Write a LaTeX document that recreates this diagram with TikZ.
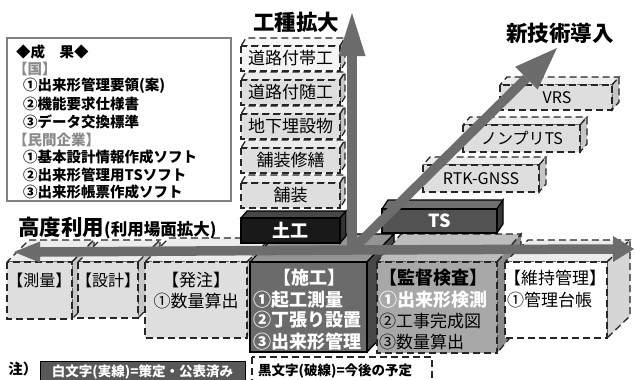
\documentclass[tikz,border=0pt]{standalone}
\usepackage{fontspec}
\setmainfont{Noto Sans CJK JP}
\usetikzlibrary{calc}
\definecolor{arrgray}{RGB}{108,108,108}
\definecolor{ltfront}{RGB}{222,222,222}
\definecolor{lttop}{RGB}{236,236,236}
\definecolor{ltside}{RGB}{198,198,198}
\definecolor{txtgray}{RGB}{140,140,140}
\definecolor{legdark}{RGB}{88,88,88}
\newcommand{\mycube}[7]{%
  \path[#7 top] (#1,#2) -- (#3,#2) -- (#3+#5,#2-#6) -- (#1+#5,#2-#6) -- cycle;
  \path[#7 side] (#3,#2) -- (#3+#5,#2-#6) -- (#3+#5,#4-#6) -- (#3,#4) -- cycle;
  \path[#7 front] (#1,#2) rectangle (#3,#4);
}
\tikzset{
  dsh/.style={draw=black!85, line width=1.3pt, dash pattern=on 7pt off 4pt},
  sld/.style={draw=black, line width=1.2pt},
  lt front/.style={fill=ltfront, dsh}, lt top/.style={fill=lttop, dsh}, lt side/.style={fill=ltside, dsh},
  wl front/.style={fill=black!4, dsh}, wl top/.style={fill=black!3, dsh}, wl side/.style={fill=ltside, dsh},
  wt front/.style={fill=white, dsh}, wt top/.style={fill=black!8, dsh}, wt side/.style={fill=black!16, dsh},
  sk front/.style={fill=black!58, sld}, sk top/.style={fill=black!42, sld}, sk side/.style={fill=black!72, sld},
  kt front/.style={fill=black!34, dsh}, kt top/.style={fill=black!26, dsh}, kt side/.style={fill=black!46, dsh},
  dg front/.style={fill=black!90, sld}, dg top/.style={fill=black!72, sld}, dg side/.style={fill=black!80, sld},
  ts front/.style={fill=black!68, sld}, ts top/.style={fill=black!56, sld}, ts side/.style={fill=black!78, sld},
  txt/.style={inner sep=0pt},
  f13/.style={font=\fontsize{13.5}{13.5}\selectfont\bfseries},
  f14/.style={font=\fontsize{14.5}{14.5}\selectfont\bfseries},
  f16/.style={font=\fontsize{16}{16}\selectfont},
  f17/.style={font=\fontsize{17}{17}\selectfont},
  f18b/.style={font=\fontsize{18}{18}\selectfont\bfseries},
  f21/.style={font=\fontsize{21.5}{21.5}\selectfont\bfseries},
  shaft/.style={draw=arrgray, line width=9.5pt},
  ahead/.style={fill=arrgray},
}
\begin{document}
\begin{tikzpicture}[x=1pt,y=-1pt]
\useasboundingbox (0,0) rectangle (635,380);
\fill[white] (0,0) rectangle (635,380);

% results box
\draw[draw=black!50, line width=1.5pt] (7,38) rectangle (231,201);
\node[txt,f14,anchor=west] (r0) at (16,52) {◆成　果◆};
\node[txt,f14,anchor=west,text=txtgray] (r1) at (13,69) {【国】};
\node[txt,f14,anchor=west] (r2) at (23,86) {①出来形管理要領(案)};
\node[txt,f14,anchor=west] (r3) at (23,104) {②機能要求仕様書};
\node[txt,f14,anchor=west] (r4) at (23,122) {③データ交換標準};
\node[txt,f14,anchor=west,text=txtgray] (r5) at (13,140) {【民間企業】};
\node[txt,f14,anchor=west] (r6) at (23,157) {①基本設計情報作成ソフト};
\node[txt,f14,anchor=west] (r7) at (23,175) {②出来形管理用TSソフト};
\node[txt,f14,anchor=west] (r8) at (23,192) {③出来形帳票作成ソフト};

% left stacked boxes (work types)
\mycube{241}{46}{340}{71}{5}{8}{wl}
\node[txt,f17] (k1) at (290.5,58.5) {道路付帯工};
\mycube{241}{80}{340}{105}{5}{8}{lt}
\node[txt,f17] (k2) at (290.5,92.5) {道路付随工};
\mycube{241}{114}{340}{139}{5}{8}{lt}
\node[txt,f17] (k3) at (290.5,126.5) {地下埋設物};
\mycube{241}{148}{340}{173}{5}{8}{lt}
\node[txt,f17] (k4) at (290.5,160.5) {舗装修繕};
\mycube{241}{183}{340}{208}{5}{8}{lt}
\node[txt,f17] (k5) at (290.5,195.5) {舗装};

% right stacked boxes (new tech)
\mycube{500}{85}{612}{110}{7}{8}{lt}
\node[txt,f16] (t1) at (557,98) {VRS};
\mycube{463}{125}{580}{152}{7}{8}{lt}
\node[txt,f16] (t2) at (522,138.5) {ノンプリTS};
\mycube{423}{165}{539}{192}{7}{8}{lt}
\node[txt,f16] (t3) at (481,178.5) {RTK-GNSS};

% bottom phase boxes
\mycube{7}{262}{72}{319}{22}{22}{lt}
\node[txt,f16] (p1) at (39.5,280) {【測量】};
\mycube{78}{262}{138}{318}{22}{22}{lt}
\node[txt,f16] (p2) at (108,280) {【設計】};
\mycube{145}{262}{247}{338}{24}{24}{lt}
\node[txt,f17] (p3a) at (196,280) {【発注】};
\node[txt,f17] (p3b) at (196,301) {①数量算出};
\mycube{250}{262}{367}{352}{27}{28}{sk}
\node[txt,f18b,text=white] (p4a) at (309,278) {【施工】};
\node[txt,f18b,text=white,anchor=west] (p4b) at (253,300) {①起工測量};
\node[txt,f18b,text=white,anchor=west] (p4c) at (253,320) {②丁張り設置};
\node[txt,f18b,text=white,anchor=west] (p4d) at (253,342) {③出来形管理};
\mycube{377}{262}{497}{353}{24}{28}{kt}
\node[txt,f18b] (p5a) at (433,278) {【監督検査】};
\node[txt,f18b,text=white,anchor=west] (p5b) at (379,300) {①出来形検測};
\node[txt,f17,anchor=west] (p5c) at (379,321) {②工事完成図};
\node[txt,f17,anchor=west] (p5d) at (379,342) {③数量算出};
\mycube{505}{262}{607}{338}{23}{22}{wt}
\node[txt,f17,anchor=west] (p6a) at (504,278) {【維持管理】};
\node[txt,f17,anchor=west] (p6b) at (507,300) {①管理台帳};

% dark boxes
\mycube{241}{218}{340}{243}{6}{7}{dg}
\node[txt,f18b,text=white] (dk) at (290.5,230.5) {土工};
\mycube{382}{209}{497}{233}{6}{9}{ts}
\node[txt,f18b,text=white] (tsb) at (439.5,221) {TS};

% axes
\coordinate (O) at (352,250);
\coordinate (L) at (14,252);
\coordinate (Lb) at (40,252);
\coordinate (R) at (634,249);
\coordinate (Rb) at (613,249);
\coordinate (U) at (352,13);
\coordinate (Ub) at (352,56);
\coordinate (D) at (557,48);
\coordinate (Db) at (526.4,78.2);
\draw[shaft] (O) -- (Lb);
\draw[shaft] (O) -- (Rb);
\fill[ahead] (L) -- ($(Lb)+(0,-10.5)$) -- ($(Lb)+(0,10.5)$) -- cycle;
\fill[ahead] (R) -- ($(Rb)+(0,-13)$) -- ($(Rb)+(0,13)$) -- cycle;
\draw[shaft] (O) -- (Ub);
\fill[ahead] (U) -- ($(Ub)+(-13.5,0)$) -- ($(Ub)+(13.5,0)$) -- cycle;
\draw[shaft] (O) -- (Db);
\fill[ahead] (D) -- ($(Db)+(-11.2,-11.4)$) -- ($(Db)+(11.2,11.4)$) -- cycle;

% axis labels
\node[txt,f21] (ax1) at (296,22) {工種拡大};
\node[txt,f21] (ax2) at (560,33) {新技術導入};
\node[txt,anchor=west] (ax3) at (18,228) {{\fontsize{21.5}{21.5}\selectfont\bfseries 高度利用}{\fontsize{16.5}{16.5}\selectfont\bfseries (利用場面拡大)}};

% legend
\node[txt,font=\fontsize{14.5}{14.5}\selectfont\bfseries] (nt) at (23,369) {注）};
\path[fill=legdark, draw=black, line width=1pt] (40,361) rectangle (245,381);
\node[txt,f13,text=white] (lg1) at (142.5,372) {白文字(実線)=策定・公表済み};
\path[fill=white, dsh] (252,357) rectangle (432,382);
\node[txt,f13,anchor=west] (lg2) at (258,371) {黒文字(破線)=今後の予定};
\end{tikzpicture}
\end{document}
